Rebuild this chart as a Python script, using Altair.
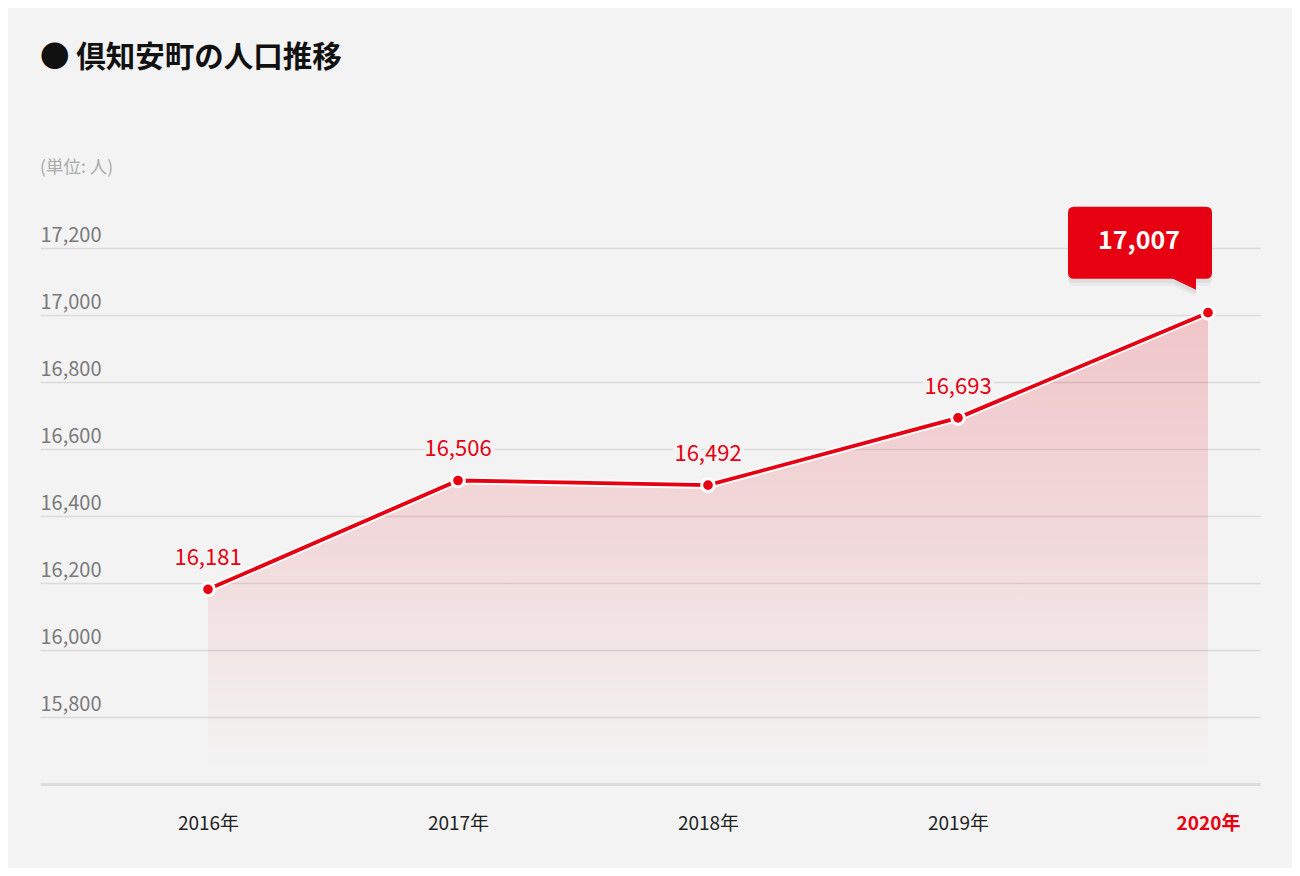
import altair as alt
import pandas as pd

years = [2016, 2017, 2018, 2019, 2020]
population = [16181, 16506, 16492, 16693, 17007]
labels = ["16,181", "16,506", "16,492", "16,693", "17,007"]
y_ticks = [15800, 16000, 16200, 16400, 16600, 16800, 17000, 17200]
highlight_year = 2020
title_text = "● 倶知安町の人口推移"
unit_text = "(単位: 人)"

df = pd.DataFrame({"year": years, "pop": population, "label": labels})
df["is_last"] = df["year"] == highlight_year

RED = "#e60012"
BG = "#f3f3f3"
FONT = "Noto Sans CJK JP"

x_enc = alt.X(
    "year:Q",
    scale=alt.Scale(domain=[2015.328, 2020.208], nice=False, zero=False),
    axis=alt.Axis(
        values=years,
        labelExpr="datum.value + '年'",
        title=None,
        grid=False,
        ticks=False,
        domain=True,
        domainColor="#dcdcdc",
        domainWidth=3,
        labelPadding=30,
        labelFlush=False,
        labelFontSize=19,
        labelFont=FONT,
        labelColor={"condition": {"test": f"datum.value == {highlight_year}", "value": RED}, "value": "#222"},
        labelFontWeight={"condition": {"test": f"datum.value == {highlight_year}", "value": "bold"}, "value": "normal"},
    ),
)

y_enc = alt.Y(
    "pop:Q",
    scale=alt.Scale(domain=[15600, 17400], nice=False, zero=False),
    axis=alt.Axis(
        values=y_ticks,
        format=",d",
        title=None,
        domain=False,
        ticks=False,
        tickSize=0,
        labelAlign="left",
        labelBaseline="alphabetic",
        labelPadding=0,
        labelOffset=-7,
        labelFontSize=20,
        labelFont=FONT,
        labelColor="#7a7a7a",
        gridColor="#dadada",
        gridWidth=1.5,
    ),
)

base = alt.Chart(df)

area = base.mark_area(
    color=alt.Gradient(
        gradient="linear",
        stops=[
            alt.GradientStop(color="rgba(230,0,18,0.19)", offset=0),
            alt.GradientStop(color="rgba(230,0,18,0.10)", offset=0.5),
            alt.GradientStop(color="rgba(230,0,18,0.0)", offset=0.97),
        ],
        x1=1, x2=1, y1=0, y2=1,
    )
).encode(x=x_enc, y=y_enc, y2=alt.datum(15600))

line_halo = base.mark_line(color="white", strokeWidth=7.5).encode(x="year:Q", y="pop:Q")
line = base.mark_line(color=RED, strokeWidth=3.8).encode(x="year:Q", y="pop:Q")
points = base.mark_circle(color=RED, stroke="white", strokeWidth=3, size=160, opacity=1).encode(
    x="year:Q", y="pop:Q"
)

normal = base.transform_filter(f"datum.year != {highlight_year}")
label_halo = normal.mark_text(
    font=FONT, fontSize=22, dy=-24, baseline="alphabetic", stroke=BG, strokeWidth=8, color=BG
).encode(x="year:Q", y="pop:Q", text="label:N")
label_txt = normal.mark_text(
    font=FONT, fontSize=22, dy=-24, baseline="alphabetic", color=RED
).encode(x="year:Q", y="pop:Q", text="label:N")

callout_path = (
    "M -1.34 -1.06 L -0.02 -1.06 Q 0.04 -1.06 0.04 -1.00 L 0.04 -0.40 "
    "Q 0.04 -0.34 -0.02 -0.34 L -0.12 -0.34 L -0.12 -0.23 L -0.35 -0.34 "
    "L -1.34 -0.34 Q -1.40 -0.34 -1.40 -0.40 L -1.40 -1.00 Q -1.40 -1.06 -1.34 -1.06 Z"
)
last = base.transform_filter(f"datum.year == {highlight_year}")
shadow1 = last.mark_point(
    shape=callout_path, size=40000, filled=True, color="#000", opacity=0.05, strokeWidth=0, yOffset=4
).encode(x="year:Q", y="pop:Q")
shadow2 = last.mark_point(
    shape=callout_path, size=40000, filled=True, color="#000", opacity=0.04, strokeWidth=0, yOffset=7
).encode(x="year:Q", y="pop:Q")
callout = last.mark_point(
    shape=callout_path, size=40000, filled=True, color=RED, opacity=1, strokeWidth=0
).encode(x="year:Q", y="pop:Q")
callout_txt = last.mark_text(
    font=FONT, fontSize=25, fontWeight="bold", color="white", dx=-69, dy=-72, baseline="middle"
).encode(x="year:Q", y="pop:Q", text="label:N")

chart = (
    alt.layer(area, line_halo, line, points, label_halo, label_txt, shadow2, shadow1, callout, callout_txt)
    .properties(
        width=1220,
        height=603,
        autosize="none",
        padding={"left": 32, "top": 173, "right": 32, "bottom": 84},
        background=BG,
        title=alt.TitleParams(
            text=title_text,
            subtitle=unit_text,
            anchor="start",
            frame="group",
            font=FONT,
            fontSize=29.5,
            fontWeight="bold",
            color="#111",
            subtitleFont=FONT,
            subtitleFontSize=17.5,
            subtitleColor="#aaaaaa",
            subtitlePadding=85,
            offset=4,
        ),
    )
    .configure_view(stroke=None)
)

chart.save("out.html", embed_options={"renderer": "svg", "actions": False})
